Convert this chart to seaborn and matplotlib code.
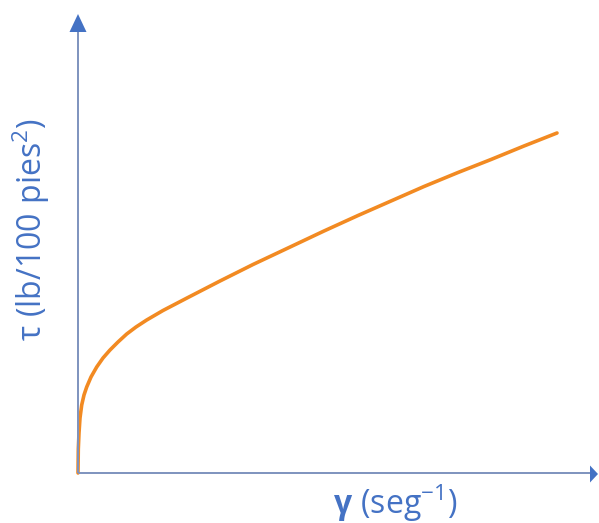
import matplotlib
matplotlib.use("Agg")
import matplotlib.pyplot as plt
from matplotlib.patches import Polygon
import pandas as pd
import seaborn as sns

# Shear rate vs shear stress (flow curve)
shear_rate = [0, 0.3, 1, 2, 3.7, 6, 8.7, 13, 18.7, 25, 32, 40, 48.7, 58, 68.7,
              85, 109, 142, 175, 210, 246, 280, 313, 346, 380, 413, 446, 479]
shear_stress = [0, 24, 40, 55, 68, 78, 86, 96, 106, 115, 123, 131, 139, 146, 153,
                162.5, 175, 192, 208.5, 225, 242, 257.5, 272, 286.5, 300.5,
                313.5, 327, 340]

x_label = r"$\mathbf{γ}$$\mathrm{\ (seg}^{\mathrm{-1}}\mathrm{)}$"
y_label = r"$\mathrm{τ\ (lb/100\ pies}^{\mathrm{2}}\mathrm{)}$"

sns.set_style("white")
plt.rcParams["font.family"] = ["Open Sans", "DejaVu Sans"]
plt.rcParams["mathtext.fontset"] = "custom"
plt.rcParams["mathtext.rm"] = "Open Sans"
plt.rcParams["mathtext.it"] = "Open Sans:italic"
plt.rcParams["mathtext.bf"] = "Open Sans:bold"

BLUE = "#4472C4"
AXIS_LINE = "#7E93BE"
ORANGE = "#F28A22"

W, H = 599, 523
fig = plt.figure(figsize=(W / 100, H / 100), dpi=100)
x0, y0 = 78, 473      # origin in pixels (from top-left)
x1, y1 = 598, 14      # arrow tips
ax = fig.add_axes([x0 / W, (H - y0) / H, (x1 - x0) / W, (y0 - y1) / H])
xmax, ymax = x1 - x0, y0 - y1
ax.set_xlim(0, xmax)
ax.set_ylim(0, ymax)
for s in ax.spines.values():
    s.set_visible(False)
ax.set_xticks([])
ax.set_yticks([])
ax.patch.set_alpha(0)

df = pd.DataFrame({"rate": shear_rate, "stress": shear_stress})
sns.lineplot(data=df, x="rate", y="stress", ax=ax, color=ORANGE,
             linewidth=2.6, clip_on=False, sort=False)
ax.set_xlabel("")
ax.set_ylabel("")

# axis lines with arrowheads
ax.plot([0, xmax - 8], [0, 0], color=AXIS_LINE, lw=1.4, clip_on=False,
        solid_capstyle="butt")
ax.plot([0, 0], [0, ymax - 18], color=AXIS_LINE, lw=1.4, clip_on=False,
        solid_capstyle="butt")
ax.add_patch(Polygon([[xmax, -1], [xmax - 8, 7.5], [xmax - 8, -9.5]],
                     closed=True, color=BLUE, clip_on=False, lw=0))
ax.add_patch(Polygon([[0, ymax], [-8.5, ymax - 18], [8.5, ymax - 18]],
                     closed=True, color=BLUE, clip_on=False, lw=0))

fig.text(395 / W, 1 - 503 / H, x_label, color=BLUE, fontsize=23,
         ha="center", va="center")
fig.text(31 / W, 1 - 230 / H, y_label, color=BLUE, fontsize=23,
         ha="center", va="center", rotation=90)

fig.savefig("out.png", dpi=100)
